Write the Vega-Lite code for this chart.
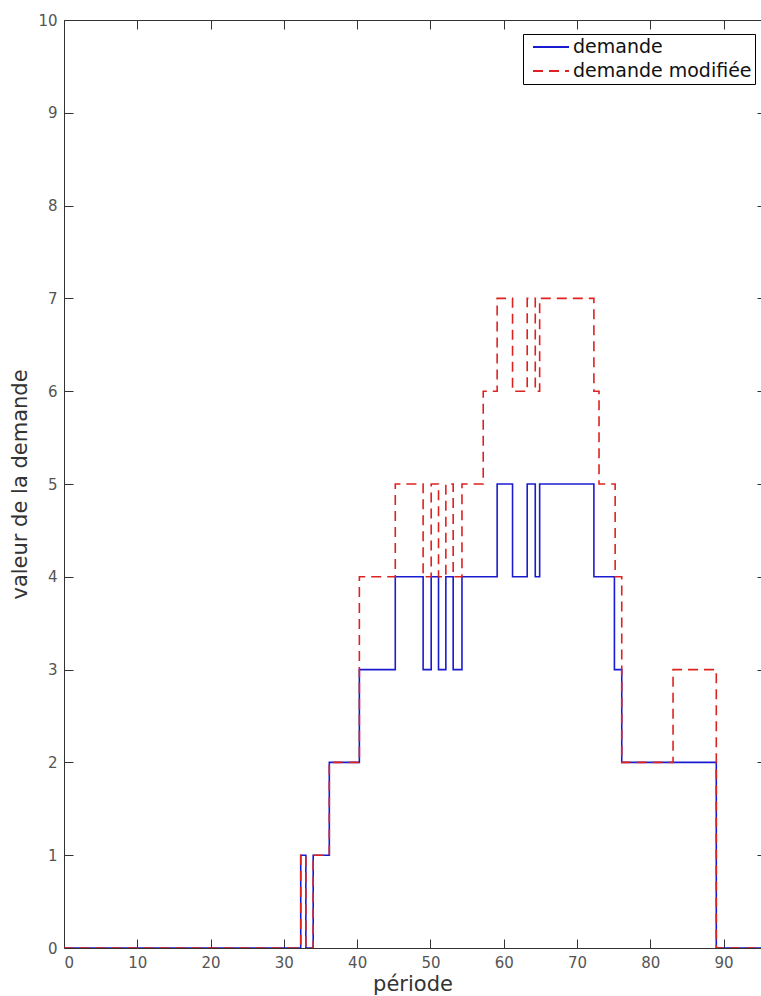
{
  "$schema": "https://vega.github.io/schema/vega-lite/v6.json",
  "width": 697,
  "height": 928,
  "autosize": {"type": "none"},
  "padding": {"left": 64, "top": 20, "right": 0, "bottom": 48},
  "background": "white",
  "config": {
    "view": {"stroke": null},
    "font": "DejaVu Sans",
    "axis": {
      "grid": false,
      "domainColor": "#333333",
      "tickColor": "#333333",
      "labelColor": "#555555",
      "labelFont": "DejaVu Sans",
      "labelFontSize": 15,
      "titleFont": "DejaVu Sans",
      "titleFontSize": 21,
      "titleFontWeight": "normal",
      "titleColor": "#333333",
      "tickSize": -9,
      "labelPadding": 16
    },
    "legend": {
      "orient": "none",
      "legendX": 459,
      "legendY": 14,
      "strokeColor": "#000000",
      "fillColor": "#ffffff",
      "padding": 3,
      "symbolType": "M-2,0H2",
      "symbolSize": 324,
      "symbolStrokeWidth": 2,
      "symbolOffset": 15,
      "labelOffset": 12,
      "labelFont": "DejaVu Sans",
      "labelFontSize": 19,
      "labelColor": "#111111",
      "labelLimit": 400,
      "rowPadding": 4
    }
  },
  "data": {
    "values": [
      {"serie": "demande", "x": 0, "y": 0},
      {"serie": "demande", "x": 32.3, "y": 1},
      {"serie": "demande", "x": 33.0, "y": 0},
      {"serie": "demande", "x": 34.0, "y": 1},
      {"serie": "demande", "x": 36.2, "y": 2},
      {"serie": "demande", "x": 40.3, "y": 3},
      {"serie": "demande", "x": 45.2, "y": 4},
      {"serie": "demande", "x": 49.0, "y": 3},
      {"serie": "demande", "x": 50.1, "y": 4},
      {"serie": "demande", "x": 51.1, "y": 3},
      {"serie": "demande", "x": 52.1, "y": 4},
      {"serie": "demande", "x": 53.1, "y": 3},
      {"serie": "demande", "x": 54.3, "y": 4},
      {"serie": "demande", "x": 59.1, "y": 5},
      {"serie": "demande", "x": 61.2, "y": 4},
      {"serie": "demande", "x": 63.2, "y": 5},
      {"serie": "demande", "x": 64.3, "y": 4},
      {"serie": "demande", "x": 64.9, "y": 5},
      {"serie": "demande", "x": 72.3, "y": 4},
      {"serie": "demande", "x": 75.1, "y": 3},
      {"serie": "demande", "x": 76.1, "y": 2},
      {"serie": "demande", "x": 89.0, "y": 0},
      {"serie": "demande", "x": 96, "y": 0},
      {"serie": "demande modifiée", "x": 0, "y": 0},
      {"serie": "demande modifiée", "x": 32.3, "y": 1},
      {"serie": "demande modifiée", "x": 33.0, "y": 0},
      {"serie": "demande modifiée", "x": 34.0, "y": 1},
      {"serie": "demande modifiée", "x": 36.2, "y": 2},
      {"serie": "demande modifiée", "x": 40.3, "y": 4},
      {"serie": "demande modifiée", "x": 45.2, "y": 5},
      {"serie": "demande modifiée", "x": 49.0, "y": 4},
      {"serie": "demande modifiée", "x": 50.1, "y": 5},
      {"serie": "demande modifiée", "x": 51.1, "y": 4},
      {"serie": "demande modifiée", "x": 52.1, "y": 5},
      {"serie": "demande modifiée", "x": 53.1, "y": 4},
      {"serie": "demande modifiée", "x": 54.3, "y": 5},
      {"serie": "demande modifiée", "x": 57.2, "y": 6},
      {"serie": "demande modifiée", "x": 59.1, "y": 7},
      {"serie": "demande modifiée", "x": 61.2, "y": 6},
      {"serie": "demande modifiée", "x": 63.2, "y": 7},
      {"serie": "demande modifiée", "x": 64.3, "y": 6},
      {"serie": "demande modifiée", "x": 64.9, "y": 7},
      {"serie": "demande modifiée", "x": 72.3, "y": 6},
      {"serie": "demande modifiée", "x": 73.0, "y": 5},
      {"serie": "demande modifiée", "x": 75.2, "y": 4},
      {"serie": "demande modifiée", "x": 76.1, "y": 2},
      {"serie": "demande modifiée", "x": 83.1, "y": 3},
      {"serie": "demande modifiée", "x": 89.0, "y": 0},
      {"serie": "demande modifiée", "x": 96, "y": 0}
    ]
  },
  "layer": [
    {
      "mark": {"type": "line", "interpolate": "step-after", "strokeWidth": 1.6, "clip": true},
      "encoding": {
        "x": {
          "field": "x", "type": "quantitative",
          "scale": {"domain": [0, 95.1], "nice": false, "zero": false},
          "axis": {"title": "période", "values": [0, 10, 20, 30, 40, 50, 60, 70, 80, 90], "titlePadding": 3}
        },
        "y": {
          "field": "y", "type": "quantitative",
          "scale": {"domain": [0, 10], "nice": false},
          "axis": {"title": "valeur de la demande", "values": [0, 1, 2, 3, 4, 5, 6, 7, 8, 9, 10], "titlePadding": 7}
        },
        "color": {
          "field": "serie", "type": "nominal",
          "scale": {"domain": ["demande", "demande modifiée"], "range": ["#1a1ad0", "#dd2222"]},
          "legend": {"title": null}
        },
        "strokeDash": {
          "field": "serie", "type": "nominal",
          "scale": {"domain": ["demande", "demande modifiée"], "range": [[1, 0], [10, 6]]},
          "legend": {"title": null}
        }
      }
    },
    {
      "mark": {"type": "line", "opacity": 0, "clip": true},
      "encoding": {
        "x": {
          "field": "x", "type": "quantitative",
          "axis": {"orient": "top", "labels": false, "title": null, "values": [0, 10, 20, 30, 40, 50, 60, 70, 80, 90]}
        },
        "y": {
          "field": "y", "type": "quantitative",
          "axis": {"orient": "right", "labels": false, "title": null, "domain": false, "tickSize": -4, "values": [0, 1, 2, 3, 4, 5, 6, 7, 8, 9, 10]}
        },
        "detail": {"field": "serie"}
      }
    }
  ],
  "resolve": {"axis": {"x": "independent", "y": "independent"}}
}
